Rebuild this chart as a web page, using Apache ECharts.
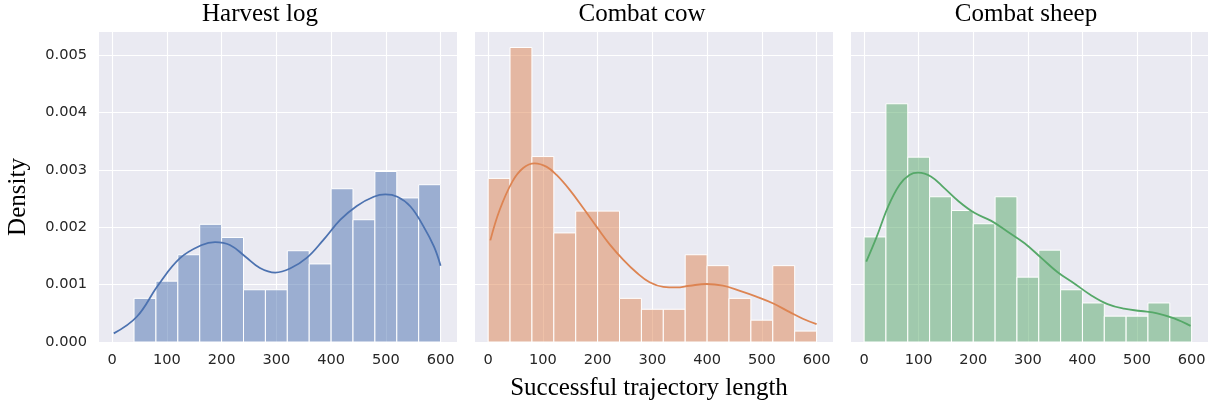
<!DOCTYPE html>
<html>
<head>
<meta charset="utf-8">
<script src="https://cdn.jsdelivr.net/npm/echarts@6/dist/echarts.min.js"></script>
<style>
html,body{margin:0;padding:0;background:#fff;}
#chart{width:1212px;height:404px;}
</style>
</head>
<body>
<div id="chart"></div>
<script>
// ---- data ----
const panelTitles = ['Harvest log', 'Combat cow', 'Combat sheep'];
const xAxisTitle = 'Successful trajectory length';
const yAxisTitle = 'Density';
const xTickValues = [0, 100, 200, 300, 400, 500, 600];
const yTickValues = [0, 0.001, 0.002, 0.003, 0.004, 0.005];
const binEdges = [0, 40, 80, 120, 160, 200, 240, 280, 320, 360, 400, 440, 480, 520, 560, 600];

const harvestDensity = [0, 0.00076, 0.00106, 0.00152, 0.00205, 0.00182, 0.00091, 0.00091, 0.00159, 0.00136, 0.00267, 0.00213, 0.00297, 0.00251, 0.00274];
const cowDensity = [0.00285, 0.00513, 0.00323, 0.00190, 0.00228, 0.00228, 0.00076, 0.00057, 0.00057, 0.00152, 0.00133, 0.00076, 0.00038, 0.00133, 0.00019];
const sheepDensity = [0.00183, 0.00415, 0.00322, 0.00253, 0.00229, 0.00206, 0.00253, 0.00113, 0.00160, 0.00091, 0.00068, 0.00045, 0.00045, 0.00068, 0.00045];

const harvestKde = [[3,0.00015],[45,0.00044],[84,0.00099],[124,0.00146],[164,0.00169],[188,0.00174],[215,0.00169],[243,0.00149],[270,0.00129],[298,0.00121],[325,0.00128],[356,0.00147],[386,0.00178],[417,0.00213],[447,0.00237],[478,0.00253],[499,0.00257],[521,0.00253],[545,0.00236],[569,0.00201],[588,0.00166],[600,0.00133]];
const cowKde = [[4,0.00177],[21,0.00230],[44,0.00279],[64,0.00303],[85,0.00311],[107,0.00305],[125,0.00291],[149,0.00265],[174,0.00233],[198,0.00201],[222,0.00170],[247,0.00143],[271,0.00121],[295,0.00104],[320,0.00096],[344,0.00095],[368,0.00098],[399,0.00101],[429,0.00098],[460,0.00089],[490,0.00079],[521,0.00067],[551,0.00052],[576,0.00040],[600,0.00031]];
const sheepKde = [[4,0.00140],[23,0.00183],[44,0.00236],[65,0.00274],[83,0.00291],[99,0.00295],[123,0.00288],[147,0.00268],[172,0.00246],[202,0.00225],[233,0.00211],[263,0.00192],[294,0.00172],[324,0.00147],[354,0.00122],[385,0.00102],[415,0.00082],[446,0.00066],[476,0.00058],[507,0.00054],[537,0.00050],[568,0.00041],[598,0.00028]];

const panelDensities = [harvestDensity, cowDensity, sheepDensity];
const panelKdes = [harvestKde, cowKde, sheepKde];
const lineColors = ['#4c72b0', '#dd8452', '#55a868'];
const fillColors = ['rgba(76,114,176,0.5)', 'rgba(221,132,82,0.5)', 'rgba(85,168,104,0.5)'];

// ---- layout ----
const gridLefts = [99, 475, 851];
const gridWidths = [358, 358, 357];
const titleCenters = [260, 642, 1026];
const gridTop = 32, gridHeight = 310;
const xMin = -24, xMax = 630, yMax = 0.0054;

const chart = echarts.init(document.getElementById('chart'), null, {renderer: 'canvas'});

const grids = [], xAxes = [], yAxes = [], series = [], graphics = [];
for (let i = 0; i < 3; i++) {
  grids.push({left: gridLefts[i], top: gridTop, width: gridWidths[i], height: gridHeight,
    show: true, backgroundColor: '#eaeaf2', borderWidth: 0, containLabel: false});
  xAxes.push({type: 'value', gridIndex: i, min: xMin, max: xMax,
    axisLine: {show: false}, axisTick: {show: false, customValues: xTickValues},
    axisLabel: {customValues: xTickValues, color: '#262626', fontFamily: 'DejaVu Sans', fontSize: 14.6, margin: 11},
    splitLine: {show: true, lineStyle: {color: '#ffffff', width: 1.1}}});
  yAxes.push({type: 'value', gridIndex: i, min: 0, max: yMax,
    axisLine: {show: false}, axisTick: {show: false, customValues: yTickValues},
    axisLabel: {show: i === 0, customValues: yTickValues, color: '#262626', fontFamily: 'DejaVu Sans', fontSize: 14.6, margin: 12,
      formatter: v => v.toFixed(3)},
    splitLine: {show: true, lineStyle: {color: '#ffffff', width: 1.1}}});
  const dens = panelDensities[i];
  const binData = [];
  for (let b = 0; b < dens.length; b++) {
    if (dens[b] > 0) binData.push([binEdges[b], binEdges[b + 1], dens[b]]);
  }
  const fill = fillColors[i];
  series.push({type: 'custom', xAxisIndex: i, yAxisIndex: i, z: 2,
    encode: {x: [0, 1], y: 2},
    data: binData,
    renderItem: function (params, api) {
      const p0 = api.coord([api.value(0), api.value(2)]);
      const p1 = api.coord([api.value(1), 0]);
      return {type: 'rect', shape: {x: p0[0], y: p0[1], width: p1[0] - p0[0], height: p1[1] - p0[1]},
        style: {fill: fill, stroke: '#ffffff', lineWidth: 1}};
    }});
  series.push({type: 'line', xAxisIndex: i, yAxisIndex: i, z: 3, data: panelKdes[i], smooth: 0.4,
    showSymbol: false, symbol: 'none', lineStyle: {color: lineColors[i], width: 1.8}});
  graphics.push({type: 'text', x: titleCenters[i], y: 14, style: {text: panelTitles[i],
    fontFamily: 'Liberation Serif', fontSize: 25, fill: '#000', textAlign: 'center', textVerticalAlign: 'middle'}});
}
graphics.push({type: 'text', x: 649, y: 388, style: {text: xAxisTitle,
  fontFamily: 'Liberation Serif', fontSize: 25, fill: '#000', textAlign: 'center', textVerticalAlign: 'middle'}});
graphics.push({type: 'text', x: 18, y: 197, rotation: Math.PI / 2, style: {text: yAxisTitle,
  fontFamily: 'Liberation Serif', fontSize: 25, fill: '#000', textAlign: 'center', textVerticalAlign: 'middle'}});

chart.setOption({
  animation: false,
  backgroundColor: '#ffffff',
  grid: grids, xAxis: xAxes, yAxis: yAxes, series: series, graphic: graphics
});
</script>
</body>
</html>
